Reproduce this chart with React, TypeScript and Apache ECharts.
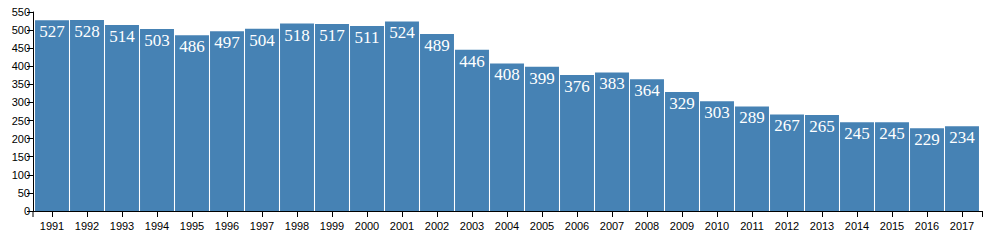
import React, { useEffect, useRef } from "react";
import * as echarts from "echarts";

const years = ["1991","1992","1993","1994","1995","1996","1997","1998","1999","2000","2001","2002","2003","2004","2005","2006","2007","2008","2009","2010","2011","2012","2013","2014","2015","2016","2017"];
const population = [527,528,514,503,486,497,504,518,517,511,524,489,446,408,399,376,383,364,329,303,289,267,265,245,245,229,234];
const yMax = 550;
const yInterval = 50;

export default function App() {
  const ref = useRef<HTMLDivElement>(null);
  useEffect(() => {
    if (!ref.current) return;
    const chart = echarts.init(ref.current, null, { renderer: "svg" });
    const left = 34.5, right = 11.5, top = 12, bottom = 31;
    const axisX0 = 33, axisX1 = 983;
    const W = 991, H = 242;
    const y0 = H - bottom;
    chart.setOption({
      animation: false,
      grid: { left, right, top, bottom, containLabel: false },
      xAxis: {
        type: "category",
        data: years,
        axisLine: { show: false },
        axisTick: { show: true, alignWithLabel: true, length: 6, lineStyle: { color: "#000" } },
        axisLabel: { color: "#000", fontSize: 11, fontFamily: "Liberation Sans, Arial, sans-serif", margin: 9 },
        splitLine: { show: false },
      },
      yAxis: {
        type: "value",
        min: 0,
        max: yMax,
        interval: yInterval,
        offset: left - axisX0,
        axisLine: { show: true, lineStyle: { color: "#000", width: 1 } },
        axisTick: { show: true, length: 6, lineStyle: { color: "#000" } },
        axisLabel: { color: "#000", fontSize: 11, fontFamily: "Liberation Sans, Arial, sans-serif", margin: 3 },
        splitLine: { show: false },
      },
      series: [
        {
          type: "bar",
          data: population,
          barCategoryGap: "3%",
          itemStyle: { color: "#4682b4" },
          label: {
            show: true,
            position: "insideTop",
            distance: 3,
            color: "#fff",
            fontSize: 17,
            fontFamily: "Liberation Serif, Georgia, serif",
          },
        },
      ],
      graphic: [
        { type: "line", z: 10, shape: { x1: axisX0, y1: y0 + 0.5, x2: axisX1, y2: y0 + 0.5 }, style: { stroke: "#000", lineWidth: 1 } },
        { type: "line", z: 10, shape: { x1: axisX0, y1: y0, x2: axisX0, y2: y0 + 6 }, style: { stroke: "#000", lineWidth: 1 } },
        { type: "line", z: 10, shape: { x1: axisX1 - 0.5, y1: y0, x2: axisX1 - 0.5, y2: y0 + 6 }, style: { stroke: "#000", lineWidth: 1 } },
      ],
    });
    return () => chart.dispose();
  }, []);
  return <div ref={ref} style={{ width: 991, height: 242, margin: -8 }} />;
}
